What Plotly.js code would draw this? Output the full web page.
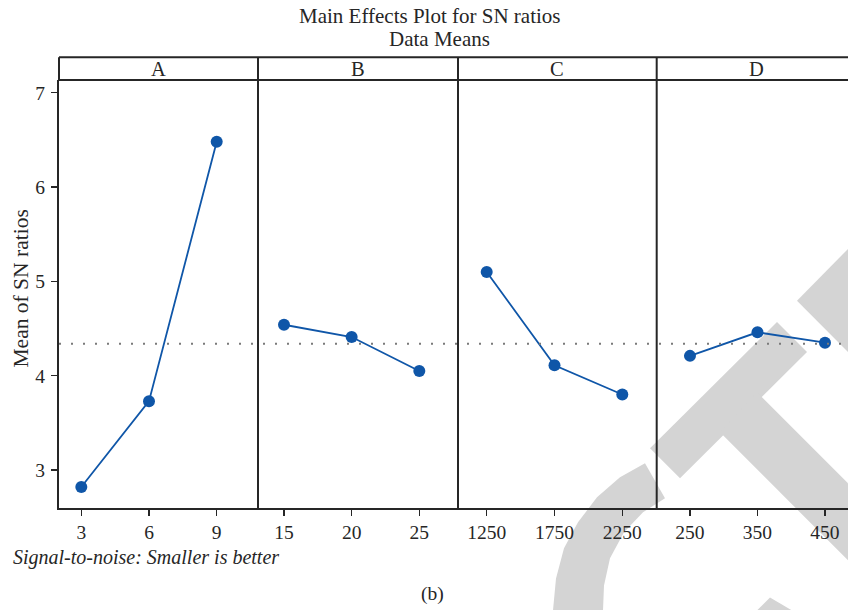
<!DOCTYPE html>
<html>
<head>
<meta charset="utf-8">
<script src="https://cdn.plot.ly/plotly-3.0.1.min.js"></script>
<style>html,body{margin:0;padding:0;background:#fff;}#chart{width:848px;height:610px;}</style>
</head>
<body>
<div id="chart"></div>
<script>
// ---- data ----
const factors = ["A", "B", "C", "D"];
const levelsA = [3, 6, 9];
const levelsB = [15, 20, 25];
const levelsC = [1250, 1750, 2250];
const levelsD = [250, 350, 450];
const snA = [2.82, 3.73, 6.48];
const snB = [4.54, 4.41, 4.05];
const snC = [5.10, 4.11, 3.80];
const snD = [4.21, 4.46, 4.35];
const yTicks = [3, 4, 5, 6, 7];
const titleLine1 = "Main Effects Plot for SN ratios";
const titleLine2 = "Data Means";
const yLabel = "Mean of SN ratios";
const footnote = "Signal-to-noise: Smaller is better";
const panelLabel = "(b)";

// ---- geometry helpers (pixel -> paper) ----
const W = 848, H = 610;
const L = 59, R = 848, T = 80.3, B = 507.7;
const PW = R - L, PH = B - T;
const px = v => (v - L) / PW;
const py = v => (B - v) / PH;

const FONT = "Liberation Serif, Times New Roman, serif";
const INK = "#262626";
const BLUE = "#0f56a8";

const levels = [levelsA, levelsB, levelsC, levelsD];
const values = [snA, snB, snC, snD];
const bounds = [[59, 258], [258, 458], [458, 656.7], [656.7, 848]];
const ranges = [[2.012, 10.830], [13.078, 27.860], [1038.3, 2503.7], [200.7, 484.1]];

const allVals = [].concat(snA, snB, snC, snD);
const grandMean = allVals.reduce((a, b) => a + b, 0) / allVals.length;

const traces = levels.map((lv, i) => ({
  type: "scatter",
  mode: "lines+markers",
  x: lv,
  y: values[i],
  xaxis: i === 0 ? "x" : "x" + (i + 1),
  yaxis: "y",
  line: {color: BLUE, width: 1.8},
  marker: {color: BLUE, size: 12},
  hoverinfo: "x+y",
  showlegend: false
}));

const layout = {
  width: W, height: H,
  margin: {l: L, r: W - R, t: T, b: H - B, pad: 0},
  paper_bgcolor: "#ffffff",
  plot_bgcolor: "rgba(0,0,0,0)",
  font: {family: FONT, color: INK, size: 19},
  showlegend: false,
  yaxis: {
    range: [2.597, 7.135],
    tickvals: yTicks,
    ticktext: yTicks.map(String),
    showline: true, linecolor: INK, linewidth: 2,
    ticks: "outside", ticklen: 6, tickwidth: 1.5, tickcolor: INK,
    showgrid: false, zeroline: false,
    tickfont: {family: FONT, size: 19.5, color: INK},
    ticklabelstandoff: 2
  },
  shapes: [],
  annotations: []
};

levels.forEach((lv, i) => {
  const key = i === 0 ? "xaxis" : "xaxis" + (i + 1);
  layout[key] = {
    domain: [px(bounds[i][0]), px(bounds[i][1])],
    range: ranges[i],
    anchor: "y",
    tickvals: lv,
    ticktext: lv.map(String),
    showline: true, linecolor: INK, linewidth: 2,
    ticks: "outside", ticklen: 6, tickwidth: 1.5, tickcolor: INK,
    showgrid: false, zeroline: false,
    tickfont: {family: FONT, size: 19.5, color: INK}
  };
  // strip label
  const cx = i === 3 ? 756.5 : (bounds[i][0] + bounds[i][1]) / 2;
  layout.annotations.push({
    text: factors[i], xref: "paper", yref: "paper",
    x: px(cx), y: py(69), xanchor: "center", yanchor: "middle",
    showarrow: false, font: {family: FONT, size: 20.5, color: INK}
  });
});

// watermark (light grey, beneath everything)
const WM = "#d4d4d4";
function poly(pts) {
  return "M" + pts.map(p => px(p[0]).toFixed(5) + "," + py(p[1]).toFixed(5)).join(" L") + " Z";
}
const wmPolys = [
  [[797, 300.7], [848, 249], [848, 352]],
  [[650, 448], [680, 478], [807, 352], [777, 322]],
  [[757, 392], [848, 483], [848, 560], [720, 432]],
  [[645, 463], [620, 477], [597, 497], [578, 522], [564, 548], [556, 578], [553, 610],
   [603, 610], [604, 585], [610, 558], [624, 532], [643, 512], [665, 498]],
  [[757, 610], [770, 597], [792, 610]]
];
wmPolys.forEach(p => layout.shapes.push({
  type: "path", xref: "paper", yref: "paper", layer: "below",
  path: poly(p), fillcolor: WM, line: {width: 0}
}));

// grand mean reference line
layout.shapes.push({
  type: "line", xref: "paper", yref: "y", x0: 0, x1: 1, y0: grandMean, y1: grandMean,
  line: {color: "#7a7a7a", width: 2, dash: "2px,10px"}
});

// frame: strip header and panel dividers
const stripTop = py(57.7);
layout.shapes.push({type: "line", xref: "paper", yref: "paper", x0: 0, x1: 1, y0: stripTop, y1: stripTop, line: {color: INK, width: 2}});
layout.shapes.push({type: "line", xref: "paper", yref: "paper", x0: 0, x1: 1, y0: 1, y1: 1, line: {color: INK, width: 2}});
layout.shapes.push({type: "line", xref: "paper", yref: "paper", x0: 0, x1: 0, y0: 1, y1: stripTop, line: {color: INK, width: 2}});
[258, 458, 656.7].forEach(b => layout.shapes.push({
  type: "line", xref: "paper", yref: "paper", x0: px(b), x1: px(b), y0: 0, y1: stripTop,
  line: {color: INK, width: 2}
}));

// texts
layout.annotations.push(
  {text: titleLine1, xref: "paper", yref: "paper", x: px(430), y: py(16.5), xanchor: "center", yanchor: "middle", showarrow: false, font: {family: FONT, size: 21, color: INK}},
  {text: titleLine2, xref: "paper", yref: "paper", x: px(439), y: py(39), xanchor: "center", yanchor: "middle", showarrow: false, font: {family: FONT, size: 21, color: INK}},
  {text: yLabel, xref: "paper", yref: "paper", x: px(20.5), y: py(289), xanchor: "center", yanchor: "middle", textangle: -90, showarrow: false, font: {family: FONT, size: 21.5, color: INK}},
  {text: "<i>" + footnote + "</i>", xref: "paper", yref: "paper", x: px(11), y: py(557), xanchor: "left", yanchor: "middle", showarrow: false, font: {family: FONT, size: 20, color: INK}},
  {text: panelLabel, xref: "paper", yref: "paper", x: px(432.5), y: py(594), xanchor: "center", yanchor: "middle", showarrow: false, font: {family: FONT, size: 19.5, color: INK}}
);

Plotly.newPlot("chart", traces, layout, {displayModeBar: false, staticPlot: true});
</script>
</body>
</html>
